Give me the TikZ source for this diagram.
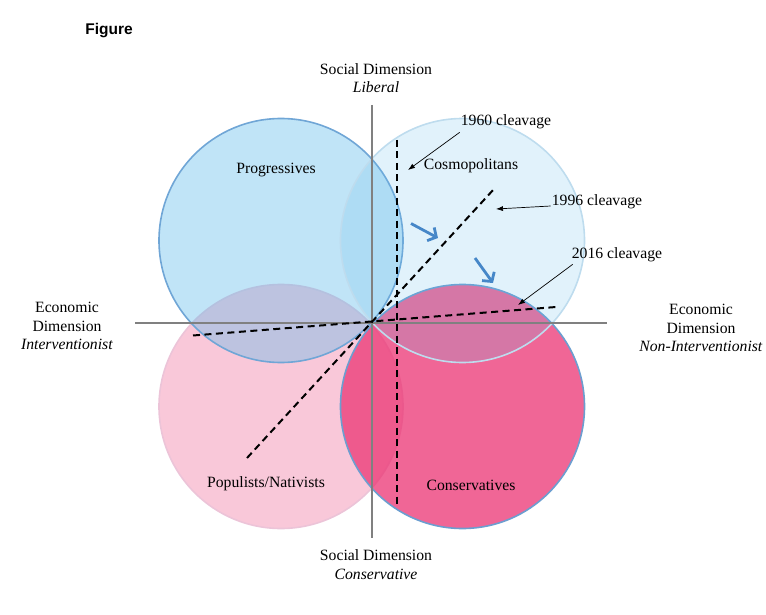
\documentclass[tikz,border=0pt]{standalone}
\usepackage{fontspec}
\setmainfont{Liberation Serif}
\newfontfamily\figfont{Liberation Sans}
\usetikzlibrary{arrows.meta}
\definecolor{blueBase}{RGB}{105,190,235}
\definecolor{pinkBase}{RGB}{235,56,118}
\definecolor{progEdge}{RGB}{112,166,214}
\definecolor{consEdge}{RGB}{108,158,208}
\definecolor{cosmoEdge}{RGB}{190,220,238}
\definecolor{popEdge}{RGB}{236,196,216}
\definecolor{axisgray}{RGB}{128,128,128}
\definecolor{arrowblue}{RGB}{70,135,200}
\begin{document}
\begin{tikzpicture}[x=1pt,y=-1pt,
  every node/.style={font=\fontsize{15.7}{18.5}\selectfont, inner sep=1pt},
  circ/.style={circle, minimum size=244pt, inner sep=0pt, line width=1.6pt},
  axisline/.style={draw=axisgray, line width=1.8pt},
  cleave/.style={draw=black, line width=2pt, dash pattern=on 7pt off 4.5pt},
  pointer/.style={draw=black, line width=0.7pt, -{Latex[length=7pt,width=5pt]}},
  shift arrow/.style={draw=arrowblue, line width=2.8pt, -{Straight Barb[length=6.5pt,width=15pt]}},
  lbl/.style={align=center}]
\useasboundingbox (0,0) rectangle (766,615);

% circles
\node[circ, fill=pinkBase, fill opacity=0.28, draw=popEdge] (popC) at (281,406.5) {};
\node[circ, fill=blueBase, fill opacity=0.42, draw=progEdge] (progC) at (281,240.5) {};
\node[circ, fill=pinkBase, fill opacity=0.77, draw=consEdge] (consC) at (462.5,406.5) {};
\node[circ, fill=blueBase, fill opacity=0.2, draw=cosmoEdge] (cosmoC) at (462.5,240.5) {};

% axes
\coordinate (axL) at (135,323);
\coordinate (axR) at (607,323);
\coordinate (axT) at (372,105);
\coordinate (axB) at (372,538);
\draw[axisline] (axL) -- (axR);
\draw[axisline] (axT) -- (axB);

% cleavages
\coordinate (c60a) at (397,140);
\coordinate (c60b) at (397,504);
\coordinate (c96a) at (247,458);
\coordinate (c96b) at (494,189);
\coordinate (c16a) at (193,335.5);
\coordinate (c16b) at (556,307);
\draw[cleave] (c60a) -- (c60b);
\draw[cleave] (c96a) -- (c96b);
\draw[cleave] (c16a) -- (c16b);

% title
\node[font=\figfont\bfseries\fontsize{15.5}{17}\selectfont] (title) at (109,30.5) {Figure};

% axis labels
\node[lbl] (socTop) at (376,78) {Social Dimension\\\textit{Liberal}};
\node[lbl] (socBot) at (376,564.5) {Social Dimension\\\textit{Conservative}};
\node[lbl] (ecoL) at (67,326) {Economic\\Dimension\\\textit{Interventionist}};
\node[lbl] (ecoR) at (701,328) {Economic\\Dimension\\\textit{Non-Interventionist}};

% group labels
\node (progL) at (276,170) {Progressives};
\node (cosmoL) at (471,166) {Cosmopolitans};
\node (popL) at (266,484) {Populists/Nativists};
\node (consL) at (471,485) {Conservatives};

% cleavage labels
\node (l1960) at (506,122) {1960 cleavage};
\node (l1996) at (597,202) {1996 cleavage};
\node (l2016) at (617,255) {2016 cleavage};
\coordinate (p60) at (408,170);
\coordinate (p96) at (496,209);
\coordinate (p16) at (518,305);
\draw[pointer] ([xshift=0pt,yshift=-2pt]l1960.south west) -- (p60);
\draw[pointer] ([yshift=-4pt]l1996.west) -- (p96);
\draw[pointer] ([xshift=2pt,yshift=-1pt]l2016.south west) -- (p16);

% shift arrows
\coordinate (s1a) at (411,223.5);
\coordinate (s1b) at (438,238);
\coordinate (s2a) at (475,258);
\coordinate (s2b) at (493,283);
\draw[shift arrow] (s1a) -- (s1b);
\draw[shift arrow] (s2a) -- (s2b);
\end{tikzpicture}
\end{document}
